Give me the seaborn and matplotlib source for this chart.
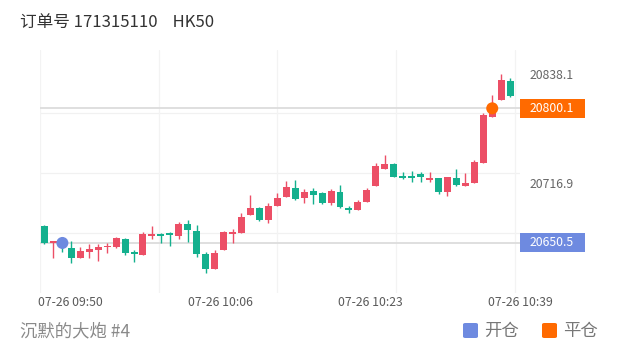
import numpy as np
import pandas as pd
import seaborn as sns
import matplotlib.pyplot as plt
import matplotlib.transforms as mtransforms
from matplotlib.patches import Rectangle, FancyBboxPatch

# one-minute candles, 09:47 .. 10:39
opens = [20669.7, 20650.2, 20652.0, 20644.6, 20634.2, 20640.2, 20642.7, 20645.7, 20645.7, 20654.6,
         20640.2, 20637.2, 20658.6, 20660.5, 20661.3, 20658.0, 20671.6, 20663.8, 20637.9, 20621.3,
         20642.7, 20660.2, 20661.3, 20681.6, 20689.7, 20676.1, 20691.6, 20702.0, 20711.3, 20700.8,
         20708.3, 20705.7, 20695.3, 20707.5, 20689.7, 20687.5, 20696.4, 20713.8, 20732.4, 20738.3,
         20725.2, 20725.3, 20727.2, 20720.5, 20722.4, 20706.8, 20722.4, 20714.2, 20716.8, 20739.1,
         20790.8, 20809.4, 20830.5]
highs = [20671.0, 20653.0, 20654.0, 20653.0, 20646.4, 20649.0, 20649.0, 20650.0, 20656.8, 20655.7,
         20642.7, 20663.0, 20669.4, 20661.3, 20663.0, 20674.0, 20676.0, 20670.5, 20640.8, 20642.7,
         20663.8, 20665.7, 20684.2, 20703.8, 20690.0, 20694.6, 20705.7, 20719.7, 20720.5, 20710.2,
         20711.3, 20707.5, 20710.2, 20714.9, 20691.6, 20698.3, 20711.3, 20739.0, 20748.3, 20739.0,
         20729.4, 20730.5, 20729.0, 20729.0, 20723.0, 20723.5, 20732.7, 20727.9, 20742.7, 20794.6,
         20815.0, 20838.1, 20833.5]
lows = [20649.5, 20633.5, 20640.0, 20628.0, 20633.5, 20634.2, 20630.5, 20639.0, 20644.6, 20637.2,
        20629.0, 20637.0, 20654.6, 20650.2, 20647.0, 20654.5, 20651.5, 20635.3, 20616.8, 20621.3,
        20642.7, 20650.2, 20661.3, 20681.6, 20675.0, 20672.4, 20691.6, 20702.0, 20698.3, 20694.6,
        20693.8, 20693.5, 20692.7, 20689.0, 20683.5, 20687.5, 20696.4, 20713.8, 20732.4, 20724.0,
        20722.0, 20718.0, 20718.6, 20718.0, 20704.6, 20703.0, 20714.0, 20714.0, 20716.8, 20739.0,
        20790.0, 20809.0, 20813.0]
closes = [20650.2, 20652.5, 20648.0, 20633.5, 20641.9, 20643.8, 20646.4, 20647.5, 20655.7, 20639.7,
          20638.3, 20660.2, 20660.5, 20658.6, 20659.0, 20671.6, 20664.9, 20637.9, 20621.3, 20639.1,
          20662.4, 20663.0, 20679.7, 20689.0, 20676.0, 20691.6, 20700.8, 20713.1, 20699.4, 20707.5,
          20703.8, 20694.6, 20708.6, 20690.8, 20687.2, 20696.0, 20709.4, 20736.0, 20738.3, 20724.2,
          20722.2, 20723.0, 20723.5, 20722.4, 20707.5, 20723.5, 20715.0, 20716.8, 20740.2, 20792.7,
          20804.6, 20831.6, 20814.2]

tick_labels = ["07-26 09:50", "07-26 10:06", "07-26 10:23", "07-26 10:39"]
axis_prices = [20838.1, 20716.9]

open_idx, open_price = 2, 20650.5
close_idx, close_price = 50, 20800.1

RED = "#ec4f66"
GREEN = "#14b08e"
BLUE = "#6e8ae0"
ORANGE = "#ff6a00"

df = pd.DataFrame({"open": opens, "high": highs, "low": lows, "close": closes})
df["idx"] = np.arange(len(df))
df["up"] = df["close"] >= df["open"]
df["color"] = np.where(df["up"], RED, GREEN)

sns.set_theme(style="white")
plt.rcParams["font.family"] = ["Noto Sans CJK SC", "DejaVu Sans"]

fig = plt.figure(figsize=(6.2, 3.52), dpi=100)
ax = fig.add_axes([40 / 620, 1 - 293 / 352, 480 / 620, 243 / 352])

n = len(df)
ax.set_xlim(-0.5, n - 0.5)
ax.set_ylim(20594.9, 20864.9)

# light grid
for gy in [20794.9, 20728.3, 20661.6]:
    ax.axhline(gy, color="#f1f1f1", lw=0.9, zorder=0)
for gx in np.linspace(-0.5, n - 0.5, 5):
    ax.axvline(gx, color="#f3f3f3", lw=0.9, zorder=0)

# position price lines
ax.axhline(open_price, color="#dcdcdc", lw=1.3, zorder=1)
ax.axhline(close_price, color="#dcdcdc", lw=1.3, zorder=1)

# candles
ax.vlines(df["idx"], df["low"], df["high"], colors=df["color"], lw=1.0, zorder=2)
body_lo = df[["open", "close"]].min(axis=1)
body_h = (df["close"] - df["open"]).abs().clip(lower=1.6)
ax.bar(df["idx"], body_h, bottom=body_lo, width=0.78, color=df["color"], lw=0, zorder=3)

# trade markers
marks = pd.DataFrame({"x": [open_idx, close_idx], "y": [open_price, close_price],
                      "kind": ["开仓", "平仓"]})
sns.scatterplot(data=marks, x="x", y="y", hue="kind", palette={"开仓": BLUE, "平仓": ORANGE},
                s=75, linewidth=0, ax=ax, legend=False, zorder=5)

# axes styling
for sp in ax.spines.values():
    sp.set_visible(False)
ax.set_xlabel("")
ax.set_ylabel("")
ax.set_xticks([2.9, 19.7, 36.4, 53.1], tick_labels)
ax.tick_params(axis="x", length=0, pad=2, labelsize=8.8, labelcolor="#5a5a5a")
ax.yaxis.tick_right()
ax.set_yticks(axis_prices, [f"{p:.1f}" for p in axis_prices])
ax.tick_params(axis="y", length=0, pad=7.2, labelsize=8.8, labelcolor="#666666")
for lab in ax.get_xticklabels():
    lab.set_clip_on(False)

# right-side price tags
trans = mtransforms.blended_transform_factory(ax.transAxes, ax.transData)
for price, col in [(open_price, BLUE), (close_price, ORANGE)]:
    ax.add_patch(Rectangle((1.0, price - 10.6), 65 / 480, 21.2, transform=trans,
                           color=col, clip_on=False, zorder=6, lw=0))
    ax.text(1 + 10 / 480, price, f"{price:.1f}", transform=trans, color="white",
            fontsize=8.8, va="center", ha="left", zorder=7, clip_on=False)

# header / footer
fig.text(20 / 620, 1 - 22 / 352, "订单号 171315110    HK50", fontsize=12, color="#333333",
         va="center", ha="left")
fig.text(20 / 620, 1 - 331 / 352, "沉默的大炮 #4", fontsize=12.5, color="#8a8a8a",
         va="center", ha="left")
for x0, col, txt in [(463, BLUE, "开仓"), (542, ORANGE, "平仓")]:
    fig.patches.append(FancyBboxPatch((x0 / 620, 1 - 338 / 352), 15 / 620, 15 / 352,
                                      boxstyle="round,pad=0,rounding_size=0.004",
                                      transform=fig.transFigure, color=col, lw=0))
    fig.text((x0 + 21) / 620, 1 - 331 / 352, txt, fontsize=12.5, color="#777777",
             va="center", ha="left")

fig.savefig("out.png", dpi=100, facecolor="white")
